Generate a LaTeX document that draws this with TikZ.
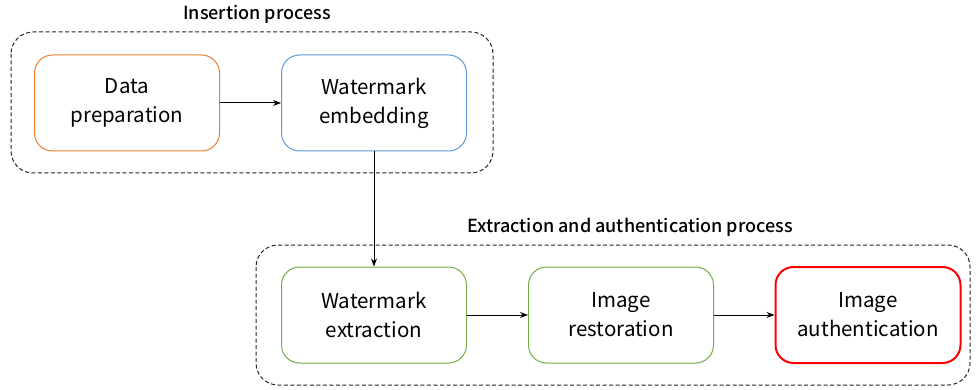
\documentclass[tikz,border=0pt]{standalone}
\usepackage{fontspec}
\setmainfont{Noto Sans CJK KR}
\newfontfamily\titlefont{Noto Sans CJK KR}[UprightFont=* Medium]
\usetikzlibrary{arrows.meta}
\definecolor{cOrange}{HTML}{ED7D31}
\definecolor{cBlue}{HTML}{5B9BD5}
\definecolor{cGreen}{HTML}{70AD47}
\definecolor{cRed}{HTML}{FF0000}
\tikzset{
  stage/.style={draw, rounded corners=18pt, line width=1pt, minimum width=185pt,
    minimum height=96pt, align=center, font=\fontsize{20.5}{29}\selectfont, inner sep=0pt},
  group/.style={draw=black!85, dash pattern=on 4pt off 2.5pt, rounded corners=22pt, line width=1pt},
  grouptitle/.style={font=\fontsize{18}{21}\titlefont},
  flow/.style={-{Stealth[length=8pt,width=6pt]}, line width=1pt}
}
\begin{document}
\begin{tikzpicture}[x=1pt,y=-1pt]
  \useasboundingbox (0,0) rectangle (976,390);
  % process groups
  \draw[group] (11,32) rectangle (493,173);
  \draw[group] (256,245) rectangle (970,385);
  \node[grouptitle] (t1) at (257,14) {Insertion process};
  \node[grouptitle] (t2) at (630,227) {Extraction and authentication process};
  % stages
  \node[stage, draw=cOrange] (prep) at (127,103) {Data\\preparation};
  \node[stage, draw=cBlue] (embed) at (374,103) {Watermark\\embedding};
  \node[stage, draw=cGreen] (extr) at (374,315) {Watermark\\extraction};
  \node[stage, draw=cGreen] (rest) at (621,315) {Image\\restoration};
  \node[stage, draw=cRed, line width=2pt] (auth) at (868,315) {Image\\authentication};
  % connectors
  \draw[flow] (prep) -- (embed);
  \draw[flow] (embed) -- (extr);
  \draw[flow] (extr) -- (rest);
  \draw[flow] (rest) -- (auth);
\end{tikzpicture}
\end{document}
